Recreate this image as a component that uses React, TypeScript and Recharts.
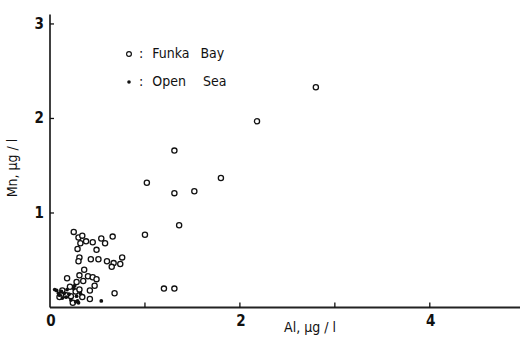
import { ScatterChart, Scatter, XAxis, YAxis } from "recharts";

// Al (x) and Mn (y), both in µg/l
const funkaAl = [
  2.8, 2.18, 1.31, 1.02, 1.8, 1.31, 1.52, 1.36, 1.0, 1.2, 1.31,
  0.66, 0.76, 0.67, 0.74, 0.65, 0.68,
  0.25, 0.3, 0.34, 0.38, 0.32, 0.29, 0.45, 0.54, 0.58, 0.49, 0.31, 0.3, 0.43, 0.51, 0.6,
  0.36, 0.31, 0.4, 0.45, 0.49, 0.18, 0.28, 0.35, 0.47, 0.42, 0.42, 0.34, 0.21, 0.22,
  0.27, 0.13, 0.17, 0.1, 0.31, 0.24,
];
const funkaMn = [
  2.33, 1.97, 1.66, 1.32, 1.37, 1.21, 1.23, 0.87, 0.77, 0.2, 0.2,
  0.75, 0.53, 0.47, 0.46, 0.43, 0.15,
  0.8, 0.74, 0.76, 0.7, 0.68, 0.62, 0.69, 0.73, 0.68, 0.61, 0.53, 0.49, 0.51, 0.51, 0.49,
  0.4, 0.34, 0.33, 0.32, 0.3, 0.31, 0.27, 0.28, 0.23, 0.18, 0.09, 0.11, 0.22, 0.12,
  0.17, 0.18, 0.13, 0.11, 0.19, 0.05,
];

const seaAl = [0.05, 0.07, 0.09, 0.1, 0.12, 0.13, 0.15, 0.17, 0.18, 0.2, 0.22, 0.25, 0.27, 0.29, 0.3, 0.32, 0.28, 0.26, 0.54];
const seaMn = [0.19, 0.18, 0.15, 0.13, 0.17, 0.1, 0.15, 0.11, 0.19, 0.14, 0.08, 0.2, 0.06, 0.07, 0.05, 0.15, 0.12, 0.23, 0.07];

const xTicks = [0, 1, 2, 3, 4];
const xLabelled = [0, 2, 4];
const yTicks = [1, 2, 3];

const funka = funkaAl.map((al, i) => ({ al, mn: funkaMn[i] }));
const sea = seaAl.map((al, i) => ({ al, mn: seaMn[i] }));

const font = "'Liberation Sans Narrow', 'DejaVu Sans Condensed', 'Liberation Sans', sans-serif";

const OpenDot = (p: any) => (
  <circle cx={p.cx} cy={p.cy} r={2.6} fill="#fff" stroke="#111" strokeWidth={1.3} />
);
const FilledDot = (p: any) => <circle cx={p.cx} cy={p.cy} r={1.9} fill="#111" />;

const XTick = (p: any) => {
  const v = p.payload.value;
  return (
    <g>
      {v !== 0 && <line x1={p.x} y1={p.y} x2={p.x} y2={p.y - 5} stroke="#111" strokeWidth={1.3} />}
      {xLabelled.includes(v) && (
        <text x={p.x + 1} y={p.y + 18} textAnchor="middle" fontFamily={font} fontWeight="bold" fontSize={15} fill="#111">
          {v}
        </text>
      )}
    </g>
  );
};

const YTick = (p: any) => (
  <g>
    <line x1={p.x} y1={p.y} x2={p.x + 4} y2={p.y} stroke="#111" strokeWidth={1.3} />
    <text x={p.x - 6} y={p.y + 5} textAnchor="end" fontFamily={font} fontWeight="bold" fontSize={15} fill="#111">
      {p.payload.value}
    </text>
  </g>
);

const LegendBox = () => (
  <div
    style={{
      position: "absolute",
      left: 124,
      top: 39,
      fontFamily: font,
      fontSize: 14,
      color: "#111",
      lineHeight: "28px",
    }}
  >
    <div>
      <svg width={10} height={10} style={{ verticalAlign: "middle" }}>
        <circle cx={5} cy={5} r={2.4} fill="#fff" stroke="#111" strokeWidth={1.2} />
      </svg>
      <span style={{ marginLeft: 5 }}>:</span>
      <span style={{ marginLeft: 9 }}>Funka</span>
      <span style={{ marginLeft: 11 }}>Bay</span>
    </div>
    <div>
      <svg width={10} height={10} style={{ verticalAlign: "middle" }}>
        <circle cx={5} cy={5} r={1.8} fill="#111" />
      </svg>
      <span style={{ marginLeft: 5 }}>:</span>
      <span style={{ marginLeft: 9 }}>Open</span>
      <span style={{ marginLeft: 17 }}>Sea</span>
    </div>
  </div>
);

export default function App() {
  return (
    <div style={{ position: "absolute", left: 0, top: 0, width: 522, height: 338, background: "#fff" }}>
      <ScatterChart width={522} height={338} margin={{ top: 14.5, right: 2, left: 49, bottom: 29.5 }}>
        <XAxis
          type="number"
          dataKey="al"
          domain={[0, 4.95]}
          ticks={xTicks}
          height={1}
          tickSize={0}
          tickMargin={0}
          tickLine={false}
          tick={<XTick />}
          axisLine={{ stroke: "#222", strokeWidth: 1.8 }}
          label={{
            content: () => (
              <text x={310} y={332} textAnchor="middle" fontFamily={font} fontSize={14} fill="#111">
                Al, µg / l
              </text>
            ),
          }}
        />
        <YAxis
          type="number"
          dataKey="mn"
          domain={[0, 3.1]}
          ticks={yTicks}
          width={1}
          tickSize={0}
          tickMargin={0}
          tickLine={false}
          tick={<YTick />}
          axisLine={{ stroke: "#111", strokeWidth: 1.6 }}
          label={{
            content: () => (
              <text transform="translate(17,168) rotate(-90)" textAnchor="middle" fontFamily={font} fontSize={14} fill="#111">
                Mn, µg / l
              </text>
            ),
          }}
        />
        <Scatter name="Funka Bay" data={funka} shape={<OpenDot />} isAnimationActive={false} />
        <Scatter name="Open Sea" data={sea} shape={<FilledDot />} isAnimationActive={false} />
      </ScatterChart>
      <LegendBox />
    </div>
  );
}
